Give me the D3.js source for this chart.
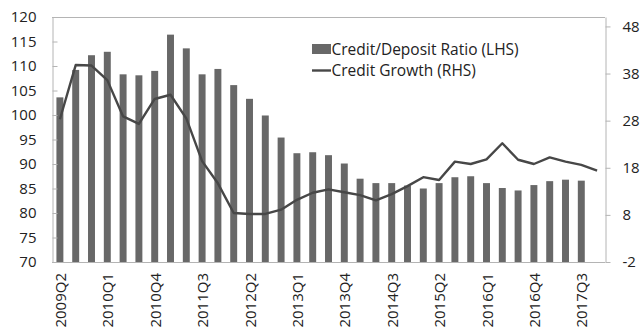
<!DOCTYPE html>
<html>
<head>
<meta charset="utf-8">
<script src="https://cdn.jsdelivr.net/npm/d3@7"></script>
<style>
  html, body { margin: 0; padding: 0; background: #fff; }
  svg { display: block; font-family: "Open Sans", "Noto Sans", sans-serif; }
</style>
</head>
<body>
<div id="chart"></div>
<script>
// Quarterly periods on the category axis
const quarters = [
  "2009Q2","2009Q3","2009Q4","2010Q1","2010Q2","2010Q3","2010Q4",
  "2011Q1","2011Q2","2011Q3","2011Q4","2012Q1","2012Q2","2012Q3","2012Q4",
  "2013Q1","2013Q2","2013Q3","2013Q4","2014Q1","2014Q2","2014Q3","2014Q4",
  "2015Q1","2015Q2","2015Q3","2015Q4","2016Q1","2016Q2","2016Q3","2016Q4",
  "2017Q1","2017Q2","2017Q3","2017Q4"
];
// Labels shown on the category axis (every third quarter)
const xTickLabels = ["2009Q2","2010Q1","2010Q4","2011Q3","2012Q2","2013Q1",
  "2013Q4","2014Q3","2015Q2","2016Q1","2016Q4","2017Q3"];

// Credit/Deposit ratio, percent (left axis), 2009Q2–2017Q3
const creditDepositRatio = [
  103.6,109.2,112.2,112.9,108.3,108.1,109.0,
  116.4,113.6,108.3,109.4,106.1,103.3,99.9,95.4,
  92.2,92.4,91.8,90.1,87.0,86.1,86.1,85.6,
  85.0,86.1,87.3,87.5,86.1,85.1,84.6,85.7,
  86.5,86.8,86.6
];
// Credit growth, percent y/y (right axis), 2009Q2–2017Q4
const creditGrowth = [
  28.3,39.8,39.7,36.6,28.9,27.3,32.6,
  33.5,28.5,19.4,14.7,8.4,8.2,8.2,9.1,
  11.2,12.7,13.4,12.8,12.2,11.1,12.4,14.1,
  16.0,15.4,19.3,18.8,19.8,23.2,19.7,18.8,
  20.2,19.3,18.6,17.4
];

const leftTicks = [70,75,80,85,90,95,100,105,110,115,120];
const rightTicks = [-2,8,18,28,38,48];

const seriesNames = ["Credit/Deposit Ratio (LHS)", "Credit Growth (RHS)"];

const W = 641, H = 328;
const m = { left: 52, right: 36, top: 17, bottom: 66 };
const x0 = m.left, x1 = W - m.right, y0 = m.top, y1 = H - m.bottom;

const barColor = "#686868";
const lineColor = "#474747";
const axisColor = "#b4b4b4";
const textColor = "#222";

const svg = d3.select("#chart").append("svg")
  .attr("width", W).attr("height", H);

const x = d3.scaleBand().domain(quarters).range([x0, x1]).padding(0);
const yL = d3.scaleLinear().domain([70, 120]).range([y1, y0]);
const yR = d3.scaleLinear().domain([-2, 50]).range([y1, y0]);
const cx = q => x(q) + x.bandwidth() / 2;
const barW = x.step() * 0.44;

// Bars
svg.append("g").selectAll("rect")
  .data(creditDepositRatio)
  .join("rect")
  .attr("x", (d, i) => cx(quarters[i]) - barW / 2)
  .attr("width", barW)
  .attr("y", d => yL(d))
  .attr("height", d => yL(70) - yL(d))
  .attr("fill", barColor);

// Line
const line = d3.line()
  .x((d, i) => cx(quarters[i]))
  .y(d => yR(d));
svg.append("path")
  .datum(creditGrowth)
  .attr("d", line)
  .attr("fill", "none")
  .attr("stroke", lineColor)
  .attr("stroke-width", 2.4)
  .attr("stroke-linejoin", "round");

// Frame: top and bottom edges
svg.append("line").attr("x1", x0).attr("x2", x1).attr("y1", y0 + 0.5).attr("y2", y0 + 0.5)
  .attr("stroke", axisColor);
svg.append("line").attr("x1", x0).attr("x2", x1).attr("y1", y1 + 0.5).attr("y2", y1 + 0.5)
  .attr("stroke", axisColor);

// Left axis
const gL = svg.append("g").attr("transform", `translate(${x0 + 0.5},0)`)
  .call(d3.axisLeft(yL).tickValues(leftTicks).tickSize(-5).tickPadding(16)
    .tickSizeOuter(0).tickFormat(d => String(d)));
// Right axis
const gR = svg.append("g").attr("transform", `translate(${x1 + 0.5},0)`)
  .call(d3.axisRight(yR).tickValues(rightTicks).tickSize(5).tickPadding(12)
    .tickSizeOuter(0).tickFormat(d => String(d)));
[gL, gR].forEach(g => {
  g.select(".domain").attr("stroke", axisColor);
  g.selectAll(".tick line").attr("stroke", axisColor);
  g.selectAll(".tick text").attr("fill", textColor)
    .style("font-size", "15px").style("font-family", '"Open Sans", sans-serif');
});

// Category labels, rotated
svg.append("g").selectAll("text")
  .data(xTickLabels)
  .join("text")
  .attr("transform", d => `translate(${cx(d) + 6},${y1 + 11}) rotate(-90)`)
  .attr("text-anchor", "end")
  .attr("fill", textColor)
  .style("font-size", "15px")
  .text(d => d);

// Legend
const lg = svg.append("g").attr("transform", "translate(312,0)");
lg.append("rect").attr("x", 0).attr("y", 44).attr("width", 19).attr("height", 10)
  .attr("fill", barColor);
lg.append("line").attr("x1", 0).attr("x2", 19).attr("y1", 70.5).attr("y2", 70.5)
  .attr("stroke", lineColor).attr("stroke-width", 2.4);
lg.selectAll("text.leg")
  .data(seriesNames)
  .join("text")
  .attr("class", "leg")
  .attr("x", 19.5)
  .attr("y", (d, i) => 55 + i * 21)
  .attr("fill", textColor)
  .style("font-size", "15.5px")
  .text(d => d);
</script>
</body>
</html>
